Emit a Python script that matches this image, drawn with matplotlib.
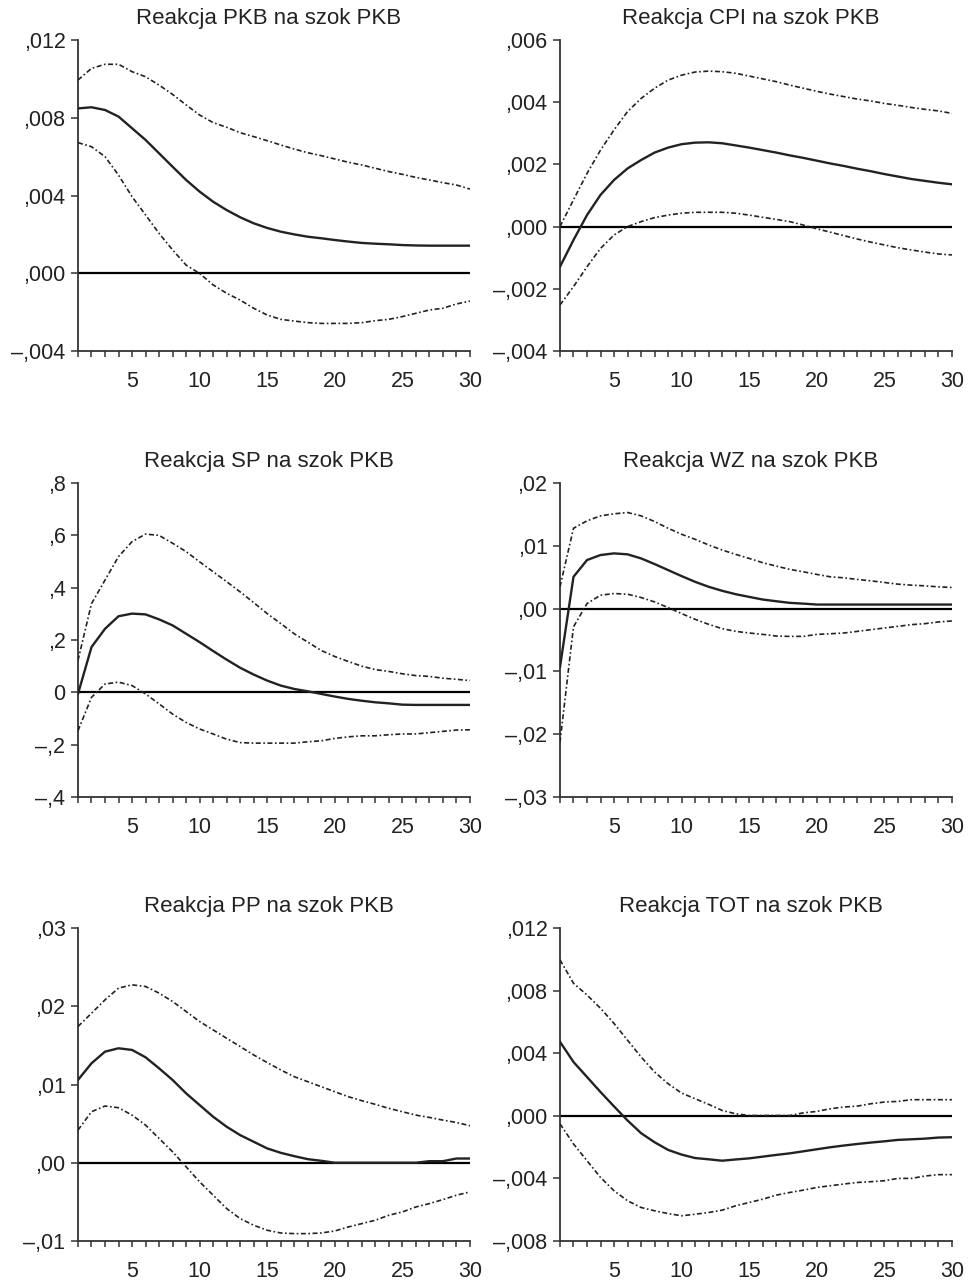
# -*- coding: utf-8 -*-
"""Funkcje reakcji na impuls - szok PKB"""

import numpy as np
import matplotlib.pyplot as plt

okresy = np.arange(1, 31)

# Reakcja PKB
pkb_sr = [0.00848, 0.00854, 0.0084, 0.00806, 0.00746, 0.00686, 0.00617, 0.00548, 0.0048, 0.0042,
          0.00368, 0.00325, 0.00288, 0.00257, 0.00233, 0.00214, 0.002, 0.00188, 0.0018, 0.00171,
          0.00163, 0.00156, 0.00152, 0.00149, 0.00145, 0.00143, 0.00142, 0.00142, 0.00142, 0.00142]
pkb_gora = [0.00994, 0.01054, 0.01075, 0.01075, 0.01037, 0.01011, 0.00968, 0.0092, 0.00866, 0.00814,
            0.00775, 0.00751, 0.00723, 0.00703, 0.00682, 0.0066, 0.00639, 0.0062, 0.00605, 0.00588,
            0.00571, 0.00557, 0.0054, 0.00523, 0.00509, 0.00493, 0.0048, 0.00466, 0.00454, 0.00433]
pkb_dol = [0.00672, 0.00651, 0.006, 0.00505, 0.00394, 0.003, 0.00205, 0.0012, 0.00042, -0.00001,
           -0.0006, -0.00103, -0.00138, -0.0018, -0.00215, -0.00237, -0.00246, -0.00254, -0.00258, -0.00258,
           -0.00258, -0.00254, -0.00244, -0.00237, -0.00223, -0.00206, -0.00189, -0.0018, -0.00158, -0.00143]

# Reakcja CPI
cpi_sr = [-0.00129, -0.00043, 0.00037, 0.00102, 0.0015, 0.00187, 0.00214, 0.00238, 0.00254, 0.00265,
          0.0027, 0.00271, 0.00268, 0.00261, 0.00254, 0.00246, 0.00238, 0.00229, 0.00221, 0.00212,
          0.00203, 0.00195, 0.00186, 0.00178, 0.00169, 0.00161, 0.00153, 0.00147, 0.00141, 0.00136]
cpi_gora = [0.0, 0.00086, 0.00171, 0.00246, 0.00311, 0.0037, 0.00412, 0.00445, 0.00471, 0.00487,
            0.00497, 0.005, 0.00498, 0.00493, 0.00484, 0.00475, 0.00466, 0.00455, 0.00445, 0.00435,
            0.00426, 0.00418, 0.0041, 0.00404, 0.00396, 0.0039, 0.00383, 0.00377, 0.00372, 0.00364]
cpi_dol = [-0.00252, -0.00193, -0.00129, -0.0007, -0.00027, 0.0, 0.00016, 0.00029, 0.00037, 0.00043,
           0.00046, 0.00046, 0.00046, 0.00043, 0.00037, 0.0003, 0.00023, 0.00016, 0.00005, -0.00007,
           -0.00018, -0.00029, -0.0004, -0.0005, -0.00059, -0.00068, -0.00075, -0.00082, -0.00088, -0.00091]

# Reakcja SP
sp_sr = [-0.006, 0.173, 0.243, 0.291, 0.301, 0.298, 0.279, 0.256, 0.224, 0.192,
         0.158, 0.125, 0.094, 0.068, 0.045, 0.026, 0.013, 0.004, -0.006, -0.016,
         -0.025, -0.032, -0.038, -0.042, -0.047, -0.048, -0.048, -0.048, -0.048, -0.048]
sp_gora = [0.122, 0.339, 0.429, 0.519, 0.576, 0.605, 0.6, 0.57, 0.538, 0.499,
           0.461, 0.423, 0.384, 0.343, 0.301, 0.263, 0.224, 0.192, 0.16, 0.137,
           0.118, 0.1, 0.087, 0.08, 0.071, 0.064, 0.061, 0.054, 0.05, 0.045]
sp_dol = [-0.147, -0.019, 0.032, 0.039, 0.026, -0.006, -0.044, -0.083, -0.115, -0.14,
          -0.159, -0.179, -0.192, -0.194, -0.194, -0.194, -0.194, -0.189, -0.185, -0.176,
          -0.17, -0.166, -0.166, -0.162, -0.159, -0.159, -0.154, -0.149, -0.144, -0.143]

# Reakcja WZ
wz_sr = [-0.0093, 0.00507, 0.00774, 0.00854, 0.0088, 0.00865, 0.008, 0.0071, 0.00614, 0.00518,
         0.00427, 0.00348, 0.00284, 0.0023, 0.00187, 0.00145, 0.00118, 0.00092, 0.0008, 0.00065,
         0.00065, 0.00065, 0.00065, 0.00065, 0.00065, 0.00065, 0.00065, 0.00065, 0.00065, 0.00065]
wz_gora = [0.00347, 0.0128, 0.01398, 0.01478, 0.0151, 0.01531, 0.01478, 0.01387, 0.0128, 0.01184,
           0.01104, 0.01014, 0.00934, 0.00864, 0.008, 0.00731, 0.00678, 0.00625, 0.00587, 0.00545,
           0.00507, 0.00491, 0.00465, 0.00443, 0.00417, 0.0039, 0.00374, 0.00363, 0.00347, 0.00337]
wz_dol = [-0.0213, -0.0029, 0.00081, 0.00214, 0.00241, 0.0023, 0.00177, 0.00107, 0.00017, -0.00079,
          -0.0017, -0.0025, -0.00319, -0.00362, -0.00388, -0.0041, -0.00436, -0.00442, -0.00442, -0.0041,
          -0.004, -0.00388, -0.00362, -0.00335, -0.00308, -0.00282, -0.00255, -0.00239, -0.00212, -0.00196]

# Reakcja PP
pp_sr = [0.01058, 0.01271, 0.0142, 0.01463, 0.01442, 0.01348, 0.01207, 0.01058, 0.00887, 0.00737,
         0.00588, 0.0046, 0.00353, 0.00268, 0.00183, 0.00127, 0.00084, 0.00046, 0.00025, 0.0,
         0.0, 0.0, 0.0, 0.0, 0.0, 0.0, 0.0002, 0.0002, 0.00054, 0.00054]
pp_gora = [0.01741, 0.01911, 0.02082, 0.02232, 0.02274, 0.02253, 0.02168, 0.02061, 0.01933, 0.01805,
           0.01698, 0.01591, 0.01485, 0.01378, 0.0128, 0.01186, 0.011, 0.01036, 0.00972, 0.00908,
           0.00844, 0.00793, 0.00746, 0.00695, 0.00652, 0.00609, 0.00579, 0.00545, 0.00515, 0.00473]
pp_dol = [0.00417, 0.00652, 0.00725, 0.00703, 0.00609, 0.00481, 0.00311, 0.0014, -0.00052, -0.00244,
          -0.00415, -0.00586, -0.00714, -0.00799, -0.00863, -0.00898, -0.00906, -0.00906, -0.00898, -0.00872,
          -0.00821, -0.00778, -0.00735, -0.00671, -0.00629, -0.00565, -0.00522, -0.00471, -0.00415, -0.00373]

# Reakcja TOT
tot_sr = [0.00473, 0.00344, 0.00248, 0.00152, 0.0006, -0.0003, -0.00111, -0.00169, -0.00218, -0.00248,
          -0.0027, -0.00278, -0.00287, -0.00279, -0.00272, -0.00261, -0.0025, -0.0024, -0.00227, -0.00214,
          -0.00201, -0.0019, -0.0018, -0.00171, -0.00163, -0.00154, -0.0015, -0.00146, -0.00139, -0.00137]
tot_gora = [0.00997, 0.00847, 0.00772, 0.00687, 0.0059, 0.00483, 0.00376, 0.0028, 0.00205, 0.00145,
            0.00109, 0.00073, 0.00034, 0.00013, 0.00002, 0.00002, 0.00002, 0.00002, 0.00019, 0.00028,
            0.00045, 0.00056, 0.00062, 0.00077, 0.00088, 0.00092, 0.00103, 0.00103, 0.00103, 0.00103]
tot_dol = [-0.00051, -0.0018, -0.00287, -0.00394, -0.00479, -0.00543, -0.00586, -0.00607, -0.00625, -0.00639,
           -0.00629, -0.00618, -0.00603, -0.00575, -0.00554, -0.00533, -0.00507, -0.0049, -0.00475, -0.00458,
           -0.00447, -0.00436, -0.00426, -0.00421, -0.00415, -0.004, -0.004, -0.00385, -0.00376, -0.00376]

tytuly = ["Reakcja PKB na szok PKB", "Reakcja CPI na szok PKB",
          "Reakcja SP na szok PKB", "Reakcja WZ na szok PKB",
          "Reakcja PP na szok PKB", "Reakcja TOT na szok PKB"]

# Podziałki osi Y (wartości i opisy w stylu ",004")
y_pkb = [-0.004, 0.0, 0.004, 0.008, 0.012]
y_pkb_opis = ["–,004", ",000", ",004", ",008", ",012"]
y_cpi = [-0.004, -0.002, 0.0, 0.002, 0.004, 0.006]
y_cpi_opis = ["–,004", "–,002", ",000", ",002", ",004", ",006"]
y_sp = [-0.4, -0.2, 0.0, 0.2, 0.4, 0.6, 0.8]
y_sp_opis = ["–,4", "–,2", "0", ",2", ",4", ",6", ",8"]
y_wz = [-0.03, -0.02, -0.01, 0.0, 0.01, 0.02]
y_wz_opis = ["–,03", "–,02", "–,01", ",00", ",01", ",02"]
y_pp = [-0.01, 0.0, 0.01, 0.02, 0.03]
y_pp_opis = ["–,01", ",00", ",01", ",02", ",03"]
y_tot = [-0.008, -0.004, 0.0, 0.004, 0.008, 0.012]
y_tot_opis = ["–,008", "–,004", ",000", ",004", ",008", ",012"]

x_opis = [5, 10, 15, 20, 25, 30]

panele = [
    (pkb_sr, pkb_gora, pkb_dol, y_pkb, y_pkb_opis),
    (cpi_sr, cpi_gora, cpi_dol, y_cpi, y_cpi_opis),
    (sp_sr, sp_gora, sp_dol, y_sp, y_sp_opis),
    (wz_sr, wz_gora, wz_dol, y_wz, y_wz_opis),
    (pp_sr, pp_gora, pp_dol, y_pp, y_pp_opis),
    (tot_sr, tot_gora, tot_dol, y_tot, y_tot_opis),
]

plt.rcParams['font.family'] = ['Liberation Sans', 'DejaVu Sans']
kolor = '#222222'
przerywana = (0, (3, 1.5, 1, 1.5))

fig = plt.figure(figsize=(9.71, 12.82), dpi=100)

# położenie osi: [lewo, dół, szerokość, wysokość]
kolumny = [0.0803, 0.5767]
wiersze = [(0.7262, 0.2426), (0.3783, 0.2449), (0.0320, 0.2441)]
szer = 0.4037

for i, (sr, gora, dol, yt, yopis) in enumerate(panele):
    dol_ax, wys = wiersze[i // 2]
    ax = fig.add_axes([kolumny[i % 2], dol_ax, szer, wys])

    ax.axhline(0, color='black', lw=1.6, zorder=2)
    ax.plot(okresy, sr, color=kolor, lw=1.7, zorder=3)
    ax.plot(okresy, gora, color=kolor, lw=1.2, ls=przerywana, zorder=3)
    ax.plot(okresy, dol, color=kolor, lw=1.2, ls=przerywana, zorder=3)

    ax.set_xlim(1, 30)
    ax.set_ylim(yt[0], yt[-1])
    ax.set_xticks(okresy)
    ax.set_xticklabels([str(k) if k in x_opis else "" for k in okresy])
    ax.set_yticks(yt)
    ax.set_yticklabels(yopis)

    for s in ['top', 'right']:
        ax.spines[s].set_visible(False)
    for s in ['left', 'bottom']:
        ax.spines[s].set_linewidth(1.3)
        ax.spines[s].set_color('#333333')

    ax.tick_params(axis='x', direction='out', length=4.5, width=1.1, colors='#333333',
                   labelcolor=kolor, labelsize=15.5, pad=10)
    ax.tick_params(axis='y', direction='out', length=5, width=1.1, colors='#333333',
                   labelcolor=kolor, labelsize=15.5, pad=4)

    ax.set_title(tytuly[i], fontsize=16, color=kolor, pad=11.5, x=0.486)

fig.savefig('out.png', dpi=100, facecolor='white')
